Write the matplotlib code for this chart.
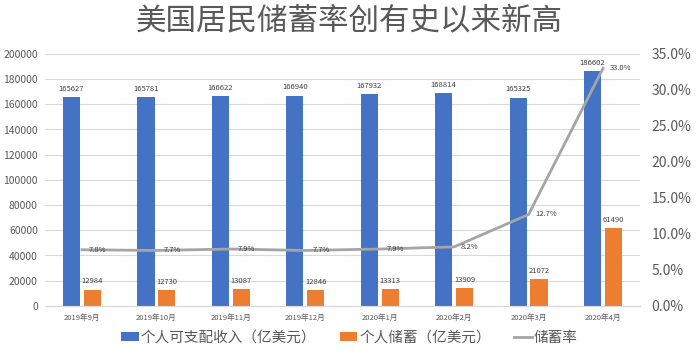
import matplotlib.pyplot as plt
import numpy as np
from matplotlib.ticker import FuncFormatter

plt.rcParams['font.family'] = ['Noto Sans CJK SC', 'DejaVu Sans']

months = ['2019年9月', '2019年10月', '2019年11月', '2019年12月',
          '2020年1月', '2020年2月', '2020年3月', '2020年4月']
income = [165627, 165781, 166622, 166940, 167932, 168814, 165325, 186602]
savings = [12984, 12730, 13087, 12846, 13313, 13909, 21072, 61490]
rate = [7.8, 7.7, 7.9, 7.7, 7.9, 8.2, 12.7, 33.0]

blue = '#4472C4'
orange = '#ED7D31'
gray = '#A5A5A5'
txt = '#595959'

fig = plt.figure(figsize=(6.99, 3.5), dpi=100)
ax = fig.add_axes([0.064, 0.126, 0.852, 0.72])
ax2 = ax.twinx()

x = np.arange(len(months))
w = 0.23
off = 0.14
b1 = ax.bar(x - off, income, w, color=blue, label='个人可支配收入（亿美元）', zorder=2)
b2 = ax.bar(x + off, savings, w, color=orange, label='个人储蓄（亿美元）', zorder=2)

for xi, v in zip(x, income):
    ax.annotate(str(v), (xi - off, v), xytext=(0, 3), textcoords='offset points',
                ha='center', va='bottom', fontsize=5.5, color='#404040')
for xi, v in zip(x, savings):
    ax.annotate(str(v), (xi + off, v), xytext=(0, 3), textcoords='offset points',
                ha='center', va='bottom', fontsize=5.5, color='#404040')

ln, = ax2.plot(x, rate, color=gray, lw=2, label='储蓄率', zorder=3)
for xi, v in zip(x, rate):
    ax2.annotate(f'{v:.1f}%', (xi, v), xytext=(5, 0), textcoords='offset points',
                 ha='left', va='center', fontsize=5.5, color='#404040')

ax.set_xlim(-0.5, len(months) - 0.5)
ax.set_ylim(0, 200000)
ax.set_yticks(np.arange(0, 200001, 20000))
ax2.set_ylim(0, 35)
ax2.set_yticks(np.arange(0, 35.1, 5))
ax2.yaxis.set_major_formatter(FuncFormatter(lambda v, p: f'{v:.1f}%'))

ax.set_xticks(x)
ax.set_xticklabels(months, fontsize=5.5, color=txt)
ax.tick_params(axis='y', labelsize=7.5, colors=txt, length=0, pad=5)
ax2.tick_params(axis='y', labelsize=10, colors=txt, length=0, pad=8)
ax.tick_params(axis='x', length=0, pad=6)

ax.grid(axis='y', color='#D9D9D9', lw=0.8, zorder=0)
ax.set_axisbelow(True)
for a in (ax, ax2):
    for s in ('top', 'left', 'right'):
        a.spines[s].set_visible(False)
    a.spines['bottom'].set_color('#D9D9D9')

fig.text(0.5, 0.94, '美国居民储蓄率创有史以来新高', ha='center', va='center',
         fontsize=22, color=txt)

fig.legend(handles=[b1, b2, ln], loc='center', bbox_to_anchor=(0.5, 0.035), ncol=3,
           frameon=False, fontsize=10.5, handlelength=1.2, handleheight=0.6,
           columnspacing=1.6, handletextpad=0.15, labelcolor=txt)

fig.savefig('out.png', dpi=100)
